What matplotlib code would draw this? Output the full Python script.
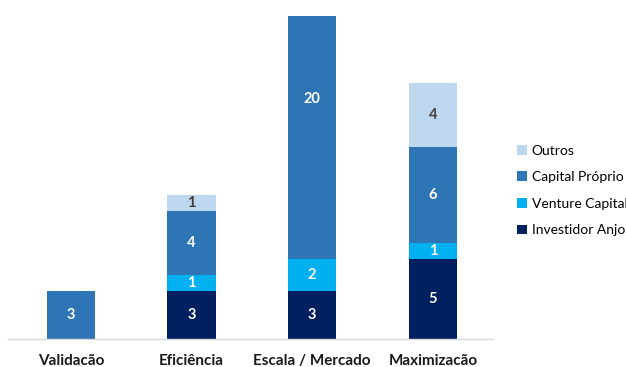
import numpy as np
import matplotlib
matplotlib.use("Agg")
import matplotlib.pyplot as plt

# dados
categorias = ["Validacão", "Eficiência", "Escala / Mercado", "Maximizacão"]
investidor_anjo = [0, 3, 3, 5]
venture_capital = [0, 1, 2, 1]
capital_proprio = [3, 4, 20, 6]
outros = [0, 1, 0, 4]

series = [
    ("Investidor Anjo", investidor_anjo, "#002060", "white"),
    ("Venture Capital", venture_capital, "#00B0F0", "white"),
    ("Capital Próprio", capital_proprio, "#2E75B6", "white"),
    ("Outros", outros, "#BDD7EE", "#404040"),
]

plt.rcParams['font.family'] = ['Lato', 'DejaVu Sans']

fig = plt.figure(figsize=(6.26, 3.67), dpi=100)
ax = fig.add_axes([0.0128, 0.0763, 0.775, 0.880])

x = np.arange(len(categorias))
base = np.zeros(len(categorias))
handles = []
for nome, vals, cor, cor_txt in series:
    vals = np.array(vals, dtype=float)
    b = ax.bar(x, vals, 0.4, bottom=base, color=cor, label=nome, zorder=2)
    handles.append(b)
    for xi, v, b0 in zip(x, vals, base):
        if v > 0:
            ax.text(xi, b0 + v / 2, f"{int(v)}", ha="center", va="center",
                    color=cor_txt, fontsize=10.5, fontweight="bold", zorder=3)
    base += vals

ax.set_xlim(-0.52, 3.5)
ax.set_ylim(0, 20.2)
ax.set_xticks(x)
ax.set_xticklabels(categorias, fontsize=11, fontweight="bold", color="#1a1a1a")
ax.tick_params(axis="x", length=0, pad=11)
ax.set_yticks([])
for s in ["top", "right", "left"]:
    ax.spines[s].set_visible(False)
ax.spines["bottom"].set_color("#d9d9d9")
ax.spines["bottom"].set_linewidth(1)

leg = fig.legend(handles[::-1], [s[0] for s in series][::-1],
                 loc="upper left", bbox_to_anchor=(0.806, 0.64),
                 frameon=False, fontsize=10, handlelength=0.7,
                 handleheight=0.7, handletextpad=0.35, labelspacing=1.05)

fig.savefig("out.png", dpi=100)
